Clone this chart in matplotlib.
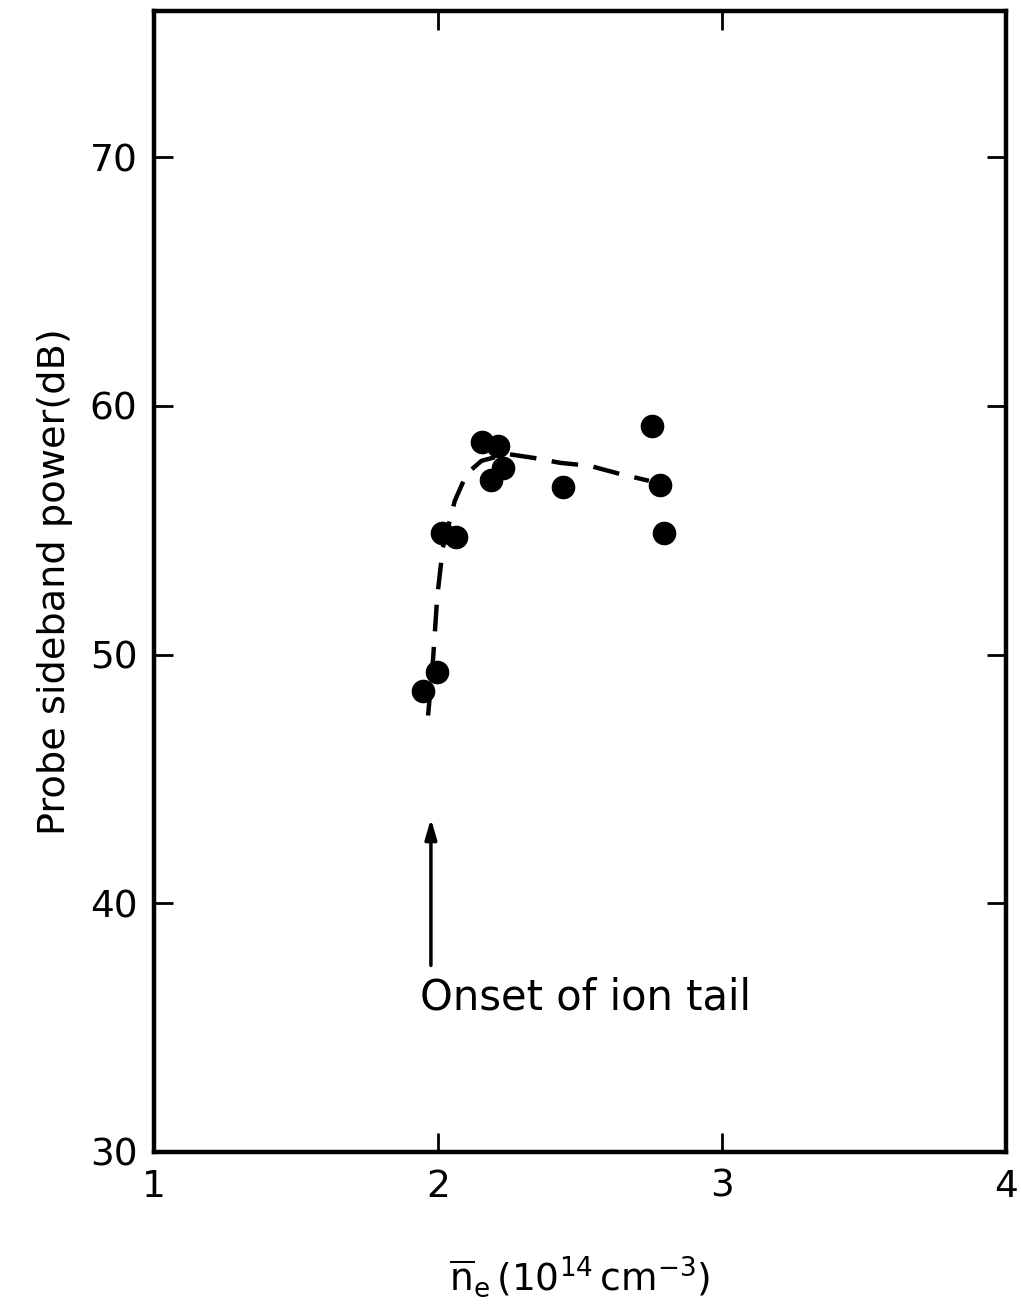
import matplotlib
matplotlib.use("Agg")
import matplotlib.pyplot as plt

# Measured points
density = [1.948, 1.997, 2.014, 2.063, 2.156, 2.212, 2.188, 2.229, 2.441, 2.753, 2.781, 2.795]
power_db = [48.55, 49.28, 54.9, 54.74, 58.55, 58.39, 57.03, 57.51, 56.75, 59.2, 56.83, 54.9]

# Hand-drawn trend curve
curve_x = [1.965, 1.983, 1.997, 2.017, 2.059, 2.101, 2.153, 2.243, 2.337, 2.431, 2.535, 2.639, 2.743]
curve_y = [47.55, 49.88, 52.29, 54.30, 56.18, 57.27, 57.79, 58.07, 57.91, 57.71, 57.59, 57.27, 56.99]

x_ticks = [1, 2, 3, 4]
y_ticks = [30, 40, 50, 60, 70]

plt.rcParams['font.family'] = ['DejaVu Sans']

fig = plt.figure(figsize=(10.21, 13.15), dpi=100)
ax = fig.add_axes([0.151, 0.124, 0.834, 0.868])

ax.plot(curve_x, curve_y, color='black', lw=3.2, dashes=(6, 3.5))
ax.plot(density, power_db, 'o', color='black', ms=16, ls='none')

ax.annotate('', xy=(1.975, 43.4), xytext=(1.975, 37.5),
            arrowprops=dict(arrowstyle='-|>,head_length=1.2,head_width=0.35',
                            color='black', lw=2.5, shrinkA=0, shrinkB=0))
ax.text(1.935, 36.2, 'Onset of ion tail', fontsize=30, ha='left', va='center')

ax.set_xlim(1, 4)
ax.set_ylim(30, 75.9)
ax.set_xticks(x_ticks)
ax.set_yticks(y_ticks)
ax.tick_params(direction='in', length=14, width=2, labelsize=27,
               top=True, right=True, pad=12)
for s in ax.spines.values():
    s.set_linewidth(3.2)

ax.set_ylabel('Probe sideband power(dB)', fontsize=27.5, labelpad=12)
ax.set_xlabel(r'$\overline{\mathrm{n}}_\mathrm{e}\,(10^{14}\,\mathrm{cm}^{-3})$',
              fontsize=27, labelpad=36)

fig.savefig('out.png', dpi=100)
